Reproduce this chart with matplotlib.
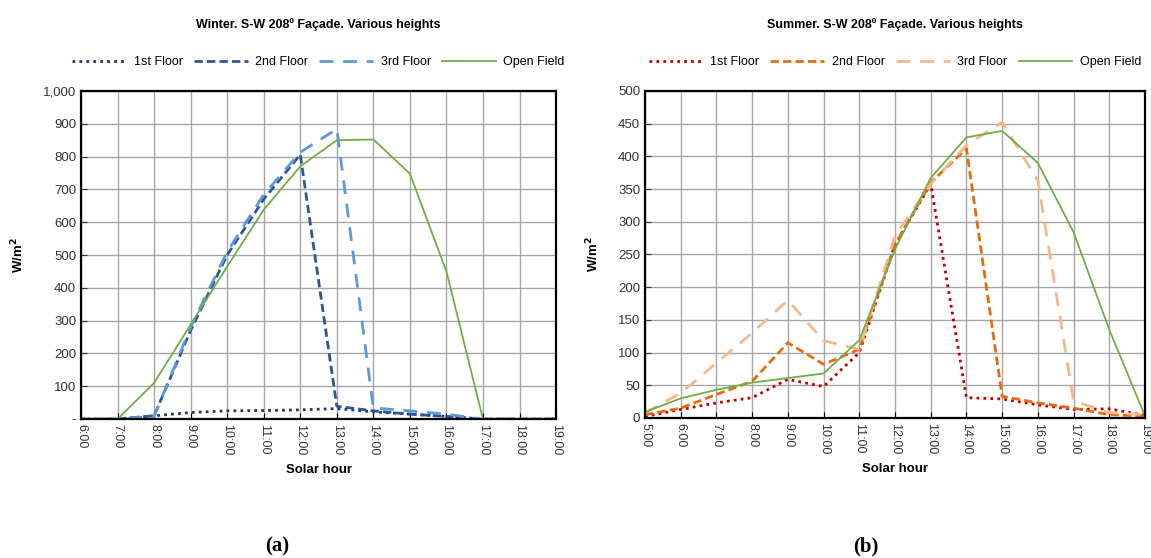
import numpy as np
import matplotlib.pyplot as plt
from matplotlib.ticker import FuncFormatter, MultipleLocator

plt.rcParams['font.family'] = ['Liberation Sans', 'DejaVu Sans']

# --------------------------------------------
# DATA
# --------------------------------------------

winter_hours = ["6:00", "7:00", "8:00", "9:00", "10:00", "11:00", "12:00",
                "13:00", "14:00", "15:00", "16:00", "17:00", "18:00", "19:00"]
winter_1st = [0, 0, 10, 20, 25, 26, 28, 32, 22, 15, 8, 0, 0, 0]
winter_2nd = [0, 0, 10, 270, 500, 670, 806, 39, 25, 15, 8, 0, 0, 0]
winter_3rd = [0, 0, 8, 280, 510, 684, 813, 884, 34, 25, 15, 0, 0, 0]
winter_open = [0, 0, 110, 288, 465, 638, 770, 850, 852, 748, 450, 0, 0, 0]

summer_hours = ["5:00", "6:00", "7:00", "8:00", "9:00", "10:00", "11:00", "12:00",
                "13:00", "14:00", "15:00", "16:00", "17:00", "18:00", "19:00"]
summer_1st = [2, 13, 23, 31, 59, 48, 100, 265, 358, 31, 29, 20, 13, 14, 4]
summer_2nd = [5, 15, 36, 56, 115, 82, 105, 265, 360, 412, 33, 23, 15, 5, 3]
summer_3rd = [8, 38, 84, 130, 180, 118, 105, 278, 358, 417, 452, 363, 26, 8, 5]
summer_open = [9, 30, 43, 54, 61, 68, 119, 258, 367, 429, 439, 390, 284, 135, 3]

labels = ["1st Floor", "2nd Floor", "3rd Floor", "Open Field"]


# --------------------------------------------
# HELPERS
# --------------------------------------------

def setup_axes(ax, hours, ymax, ystep, title, fmt):
    x = np.arange(len(hours))
    ax.set_xlim(0, len(hours) - 1)
    ax.set_ylim(0, ymax)
    ax.set_xticks(x)
    ax.set_xticklabels(hours, rotation=-90, fontsize=9, color="#333333")
    ax.yaxis.set_major_locator(MultipleLocator(ystep))
    ax.yaxis.set_major_formatter(FuncFormatter(fmt))
    ax.tick_params(axis="y", labelsize=9.5, colors="#333333", direction="in", length=4)
    ax.tick_params(axis="x", direction="in", length=4)
    ax.grid(True, color="#a6a6a6", linewidth=1.0)
    ax.set_axisbelow(True)
    for s in ax.spines.values():
        s.set_linewidth(1.6)
        s.set_color("black")
    ax.set_xlabel("Solar hour", fontsize=9.5, fontweight="bold", labelpad=6)
    ax.set_ylabel("W/m$^\\mathbf{2}$", fontsize=9.5, fontweight="bold", labelpad=12)
    ax.set_title(title, fontsize=9, fontweight="bold", pad=45)
    ax.legend(loc="lower center", bbox_to_anchor=(0.5, 1.055), ncol=4, frameon=False,
              fontsize=9, handlelength=4.3, columnspacing=0.9, handletextpad=0.6,
              borderaxespad=0.0)


def winter_fmt(v, pos):
    if v == 0:
        return "-"
    return f"{v:,.0f}"


def summer_fmt(v, pos):
    return f"{v:.0f}"


fig = plt.figure(figsize=(11.51, 5.58), dpi=100)

# --------------------------------------------
# (a) WINTER
# --------------------------------------------

ax1 = fig.add_axes([0.0704, 0.249, 0.4127, 0.588])
xw = np.arange(len(winter_hours))
ax1.plot(xw, winter_1st, color="#203864", linestyle=(0, (1, 1.5)), linewidth=2.0, label=labels[0])
ax1.plot(xw, winter_2nd, color="#2F5597", linestyle=(0, (3, 1.5)), linewidth=2.0, label=labels[1])
ax1.plot(xw, winter_3rd, color="#5B9BD5", linestyle=(0, (5, 3.5)), linewidth=2.0, label=labels[2])
ax1.plot(xw, winter_open, color="#70AD47", linestyle="-", linewidth=1.3, label=labels[3])
setup_axes(ax1, winter_hours, 1000, 100, "Winter. S-W 208\u00ba Fa\u00e7ade. Various heights", winter_fmt)

# --------------------------------------------
# (b) SUMMER
# --------------------------------------------

ax2 = fig.add_axes([0.5604, 0.251, 0.4344, 0.586])
xs = np.arange(len(summer_hours))
ax2.plot(xs, summer_1st, color="#C00000", linestyle=(0, (1, 1.5)), linewidth=2.0, label=labels[0])
ax2.plot(xs, summer_2nd, color="#E46C0A", linestyle=(0, (3, 1.5)), linewidth=2.0, label=labels[1])
ax2.plot(xs, summer_3rd, color="#F8B78A", linestyle=(0, (5, 3.5)), linewidth=2.0, label=labels[2])
ax2.plot(xs, summer_open, color="#70AD47", linestyle="-", linewidth=1.3, label=labels[3])
setup_axes(ax2, summer_hours, 500, 50, "Summer. S-W 208\u00ba Fa\u00e7ade. Various heights", summer_fmt)
ax2.yaxis.labelpad = 12

# panel letters
fig.text(0.241, 0.012, "(a)", fontsize=15, fontweight="bold", family=["Liberation Serif", "DejaVu Serif"], ha="center")
fig.text(0.752, 0.012, "(b)", fontsize=15, fontweight="bold", family=["Liberation Serif", "DejaVu Serif"], ha="center")

plt.savefig("out.png", dpi=100)
